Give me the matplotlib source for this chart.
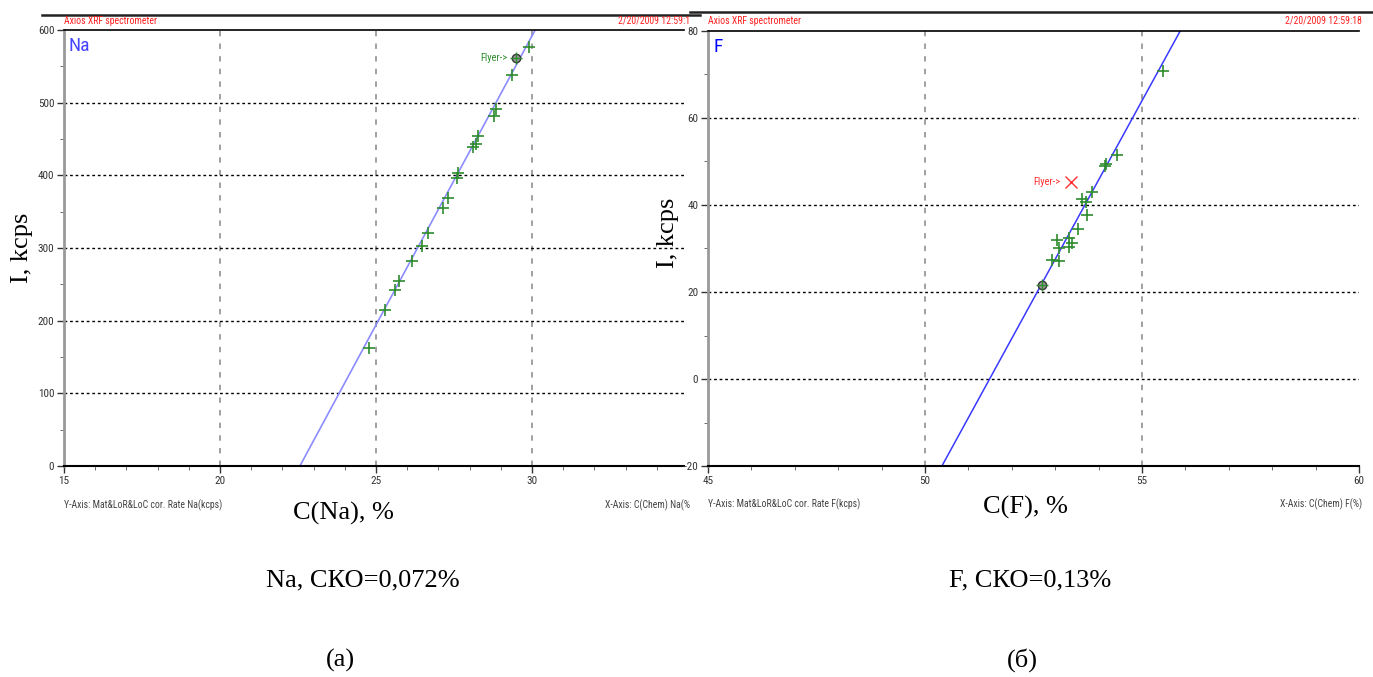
import numpy as np
import matplotlib.pyplot as plt
from matplotlib.lines import Line2D
from matplotlib import font_manager

W, H = 1373, 677

# Na calibration data (C, %  ->  I, kcps)
na_c = [24.79, 25.29, 25.61, 25.73, 26.14, 26.47, 26.68, 27.14, 27.30, 27.59,
        27.63, 28.12, 28.20, 28.27, 28.78, 28.85, 29.37, 29.91]
na_i = [163, 215, 242, 255, 282, 303, 321, 355, 369, 396,
        403, 439, 443, 454, 482, 491, 538, 577]
na_flyer = (29.50, 561)
na_line_c = [22.56, 30.10]
na_line_i = [0, 600]

# F calibration data
f_c = [52.92, 53.09, 53.03, 53.09, 53.31, 53.31, 53.38, 53.53, 53.61, 53.71,
       53.73, 53.84, 54.15, 54.17, 54.43, 55.48]
f_i = [27.4, 27.2, 32.0, 30.0, 32.3, 30.4, 31.2, 34.4, 41.3, 40.8,
       37.7, 43.1, 49.0, 49.4, 51.5, 70.8]
f_circled = (52.69, 21.6)
f_flyer = (53.36, 45.3)
f_line_c = [50.39, 55.88]
f_line_i = [-20, 80]

# narrow sans for the instrument captions, if one is around
names = {f.name for f in font_manager.fontManager.ttflist}
narrow = [n for n in ['Liberation Sans Narrow', 'Roboto Condensed', 'DejaVu Sans']
          if n in names]
NARROW = dict(family=narrow, stretch='condensed')
SERIF = ['Liberation Serif', 'DejaVu Serif']


def rect(l, t, r, b):
    return [l / W, 1 - b / H, (r - l) / W, (b - t) / H]


def ftext(x, y, s, **kw):
    fig.text(x / W, 1 - y / H, s, **kw)


fig = plt.figure(figsize=(W / 100, H / 100), dpi=100)


def panel(box, xlim, ylim, xmaj, ymaj, xmin, ymin):
    ax = fig.add_axes(rect(*box))
    ax.set_xlim(*xlim)
    ax.set_ylim(*ylim)
    ax.set_xticks(xmaj)
    ax.set_yticks(ymaj)
    ax.set_xticks(xmin, minor=True)
    ax.set_yticks(ymin, minor=True)
    ax.tick_params(labelsize=8, colors='#333333', length=5, width=1, pad=2)
    ax.tick_params(which='minor', length=3, colors='#555555')
    for lab in ax.get_xticklabels() + ax.get_yticklabels():
        lab.set(**NARROW)
    ax.spines['right'].set_visible(False)
    ax.spines['left'].set_color('#999999')
    ax.spines['left'].set_linewidth(2)
    ax.spines['bottom'].set_linewidth(1.5)
    ax.spines['top'].set_linewidth(1.2)
    for x in xmaj:
        if xlim[0] < x < xlim[1]:
            ax.axvline(x, color='#999999', lw=1.3, ls=(0, (3, 4)), zorder=0)
    for y in ymaj[1:-1]:
        ax.axhline(y, color='black', lw=1, ls=(0, (2, 2)), zorder=0)
    return ax


# ---- Na panel ----
ax1 = panel((64, 30, 684, 466), (15, 34.87), (0, 600),
            [15, 20, 25, 30], [0, 100, 200, 300, 400, 500, 600],
            np.arange(15, 35, 1), np.arange(0, 601, 50))
ax1.plot(na_line_c, na_line_i, color='#8c8cff', lw=1.2)
ax1.plot(na_c, na_i, ls='none', marker='+', color='#2e8b2e', ms=9, mew=1.2)
ax1.plot(*na_flyer, marker='o', ms=6, mfc='#999999', mec='#333333', mew=1)
ax1.plot(*na_flyer, marker='+', ms=8, color='#2e8b2e', mew=1)
ax1.text(na_flyer[0] - 0.3, na_flyer[1], 'Flyer->', color='#2e8b2e', ha='right',
         va='center', fontsize=7.5, **NARROW)
ax1.text(0.008, 0.985, 'Na', transform=ax1.transAxes, color='#4444ff',
         fontsize=14, va='top', **NARROW)

# ---- F panel ----
ax2 = panel((708, 31, 1359, 466), (45, 60), (-20, 80),
            [45, 50, 55, 60], [-20, 0, 20, 40, 60, 80],
            np.arange(45, 61, 1), np.arange(-20, 81, 10))
ax2.set_zorder(3)
ax2.patch.set_alpha(0)
ax2.plot(f_line_c, f_line_i, color='#3a3aff', lw=1.1)
ax2.plot(f_c, f_i, ls='none', marker='+', color='#2e8b2e', ms=9, mew=1.2)
ax2.plot(*f_circled, marker='o', ms=6, mfc='#999999', mec='#333333', mew=1)
ax2.plot(*f_circled, marker='+', ms=8, color='#2e8b2e', mew=1)
ax2.plot(*f_flyer, marker='x', ms=8, color='#ff3030', mew=1)
ax2.text(f_flyer[0] - 0.25, f_flyer[1], 'Flyer->', color='#ff3030', ha='right',
         va='center', fontsize=7.5, **NARROW)
ax2.text(0.008, 0.985, 'F', transform=ax2.transAxes, color='#0000ff',
         fontsize=14, va='top', **NARROW)

# header lines and texts
fig.add_artist(Line2D([42 / W, 700 / W], [1 - 15 / H] * 2, color='#222222', lw=1.8))
fig.add_artist(Line2D([690 / W, 1], [1 - 12 / H] * 2, color='#222222', lw=1.8))
hdr = dict(color='#ff2020', fontsize=7, va='center', **NARROW)
ftext(64, 21, 'Axios XRF spectrometer', **hdr)
ftext(690, 21, '2/20/2009 12:59:1', ha='right', **hdr)
ftext(708, 21, 'Axios XRF spectrometer', **hdr)
ftext(1362, 21, '2/20/2009 12:59:18', ha='right', **hdr)

# footer captions under axes
cap = dict(color='#444444', fontsize=7, va='center', **NARROW)
ftext(64, 505, 'Y-Axis: Mat&LoR&LoC cor. Rate Na(kcps)', **cap)
ftext(690, 505, 'X-Axis: C(Chem) Na(%', ha='right', **cap)
ftext(708, 504, 'Y-Axis: Mat&LoR&LoC cor. Rate F(kcps)', **cap)
ftext(1362, 504, 'X-Axis: C(Chem) F(%)', ha='right', **cap)

# big serif labels
big = dict(fontsize=19, family=SERIF, ha='center', va='center')
ftext(22, 248, 'I, kcps', rotation=90, **big)
ftext(668, 233, 'I, kcps', rotation=90, **big)
ftext(343, 513, 'C(Na), %', **big)
ftext(1025, 507, 'C(F), %', **big)
ftext(363, 580, 'Na, СКО=0,072%', **big)
ftext(1030, 580, 'F, СКО=0,13%', **big)
ftext(340, 660, '(а)', **big)
ftext(1022, 660, '(б)', **big)

fig.savefig('out.png', dpi=100)
